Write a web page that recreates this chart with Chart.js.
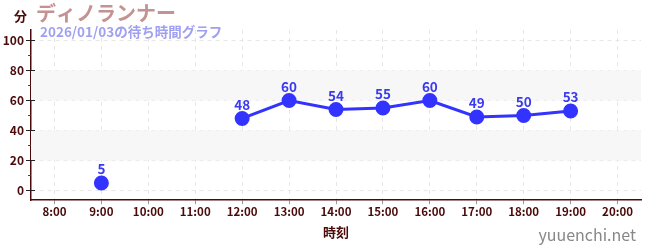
<!DOCTYPE html>
<html>
<head>
<meta charset="utf-8">
<script src="https://cdn.jsdelivr.net/npm/chart.js@4/dist/chart.umd.min.js"></script>
<style>
  html, body { margin: 0; padding: 0; background: #fff; }
  #wrap { width: 650px; height: 250px; position: relative; }
</style>
</head>
<body>
<div id="wrap"><canvas id="waitChart"></canvas></div>
<script>
// wait time data (minutes), null = no data
const hours = ['8:00', '9:00', '10:00', '11:00', '12:00', '13:00', '14:00', '15:00', '16:00', '17:00', '18:00', '19:00', '20:00'];
const waits = [null, 5, null, null, 48, 60, 54, 55, 60, 49, 50, 53, null];
const yTicks = [0, 20, 40, 60, 80, 100];
const minorTicks = [10, 30, 50, 70, 90];
const bands = [[20, 40], [60, 80]];

const FONT = '"Noto Sans CJK JP", "Noto Sans", sans-serif';
const DARK = '#4a0a0a';

// background bands + custom tick marks + texts
const decor = {
  id: 'decor',
  beforeDatasetsDraw(chart) {
    const { ctx, chartArea, scales } = chart;
    const y = scales.y;
    ctx.save();
    ctx.fillStyle = '#f7f7f7';
    bands.forEach(([a, b]) => {
      const top = y.getPixelForValue(b), bot = y.getPixelForValue(a);
      ctx.fillRect(chartArea.left, top, chartArea.right - chartArea.left, bot - top);
    });
    ctx.restore();
  },
  afterDraw(chart) {
    const { ctx, chartArea, scales } = chart;
    const y = scales.y;
    ctx.save();
    // minor ticks
    ctx.strokeStyle = '#d00000';
    ctx.lineWidth = 1;
    minorTicks.forEach(v => {
      const py = Math.round(y.getPixelForValue(v)) + 0.5;
      ctx.beginPath();
      ctx.moveTo(chartArea.left - 3, py);
      ctx.lineTo(chartArea.left, py);
      ctx.stroke();
    });
    // major ticks crossing the axis
    ctx.strokeStyle = '#222';
    yTicks.forEach(v => {
      const py = Math.round(y.getPixelForValue(v)) + 0.5;
      ctx.beginPath();
      ctx.moveTo(chartArea.left - 5, py);
      ctx.lineTo(chartArea.left + 4, py);
      ctx.stroke();
    });
    // data labels
    const meta = chart.getDatasetMeta(0);
    ctx.fillStyle = '#3a3af0';
    ctx.font = 'bold 13.5px ' + FONT;
    ctx.textAlign = 'center';
    ctx.textBaseline = 'bottom';
    meta.data.forEach((pt, i) => {
      if (waits[i] == null) return;
      ctx.fillText(String(waits[i]), pt.x, pt.y - 7);
    });
    // titles
    ctx.textAlign = 'left';
    ctx.textBaseline = 'alphabetic';
    ctx.fillStyle = DARK;
    ctx.font = 'bold 13px ' + FONT;
    ctx.fillText('分', 14, 21);
    ctx.fillStyle = '#c49292';
    ctx.font = 'bold 20px ' + FONT;
    ctx.fillText('ディノランナー', 36, 21);
    ctx.fillStyle = '#a0a0f0';
    ctx.font = 'bold 13.5px ' + FONT;
    ctx.fillText('2026/01/03の待ち時間グラフ', 40, 37);
    ctx.fillStyle = DARK;
    ctx.font = 'bold 13px ' + FONT;
    ctx.textAlign = 'center';
    ctx.fillText('時刻', (chartArea.left + chartArea.right) / 2, 237);
    ctx.fillStyle = '#888';
    ctx.font = '16px ' + FONT;
    ctx.textAlign = 'right';
    ctx.fillText('yuuenchi.net', 636, 241);
    ctx.restore();
  }
};

new Chart(document.getElementById('waitChart'), {
  type: 'line',
  data: {
    labels: hours,
    datasets: [{
      data: waits,
      borderColor: '#3333ff',
      backgroundColor: '#3333ff',
      borderWidth: 3,
      pointRadius: 6,
      pointHoverRadius: 6,
      tension: 0,
      spanGaps: false
    }]
  },
  options: {
    responsive: true,
    maintainAspectRatio: false,
    animation: false,
    layout: { padding: { top: 30, right: 6, bottom: 30, left: 0 } },
    plugins: { legend: { display: false }, tooltip: { enabled: false } },
    scales: {
      x: {
        offset: true,
        grid: { color: '#e6e6e6', tickLength: 4, drawTicks: true, tickColor: '#999' },
        border: { color: DARK, width: 1.5, dash: [4, 4] },
        ticks: { color: DARK, font: { family: FONT, size: 11.5, weight: 'bold' }, padding: 1, maxRotation: 0, autoSkip: false }
      },
      y: {
        min: -6.5,
        max: 107,
        afterBuildTicks(scale) { scale.ticks = yTicks.map(v => ({ value: v })); },
        afterFit(scale) { scale.width = 31; },
        grid: { color: '#e6e6e6', drawTicks: false },
        border: { color: DARK, width: 1.5, dash: [4, 4] },
        ticks: { color: DARK, font: { family: FONT, size: 12, weight: 'bold' }, padding: 7 }
      }
    }
  },
  plugins: [decor]
});
</script>
</body>
</html>
